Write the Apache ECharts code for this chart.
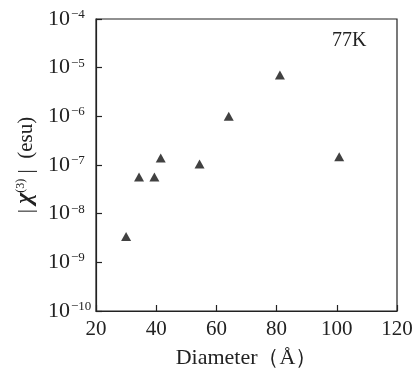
<!DOCTYPE html>
<html><head><meta charset="utf-8">
<script src="https://cdn.jsdelivr.net/npm/echarts@6/dist/echarts.min.js"></script>
<style>html,body{margin:0;padding:0;background:#fff}#c{width:414px;height:368px}</style>
</head><body><div id="c"></div>
<script>
const diameters = [30, 34.3, 39.4, 41.5, 54.4, 64.1, 81.1, 100.8];
const chi3 = [3.4e-9, 5.7e-8, 5.7e-8, 1.39e-7, 1.05e-7, 1.0e-6, 7.1e-6, 1.48e-7];
const xTicks = [20, 40, 60, 80, 100, 120];
const yExps = [-10, -9, -8, -7, -6, -5, -4];

const serif = 'Liberation Serif, DejaVu Serif, serif';
const chart = echarts.init(document.getElementById('c'), null, {renderer: 'canvas'});
chart.setOption({
  animation: false,
  backgroundColor: '#fff',
  grid: {left: 96, right: 17, top: 19, bottom: 57, containLabel: false, outerBoundsMode: 'none',
         show: true, borderColor: '#222', borderWidth: 1.2},
  xAxis: {
    type: 'value', min: xTicks[0], max: xTicks[xTicks.length - 1], interval: 20,
    axisLine: {lineStyle: {color: '#222', width: 1.2}},
    axisTick: {inside: true, length: 6, lineStyle: {color: '#222', width: 1.2}},
    splitLine: {show: false},
    axisLabel: {margin: 8, color: '#222', fontFamily: serif, fontSize: 21},
    name: 'Diameter（Å）', nameLocation: 'middle', nameGap: 36,
    nameTextStyle: {color: '#222', fontFamily: serif, fontSize: 22}
  },
  yAxis: {
    type: 'log', logBase: 10, min: Math.pow(10, yExps[0]), max: Math.pow(10, yExps[yExps.length - 1]),
    axisLine: {lineStyle: {color: '#222', width: 1.2}},
    axisTick: {inside: true, length: 6, lineStyle: {color: '#222', width: 1.2}},
    splitLine: {show: false},
    minorTick: {show: false},
    axisLabel: {
      margin: 48, align: 'left', color: '#222',
      formatter: v => '{b|10}{s|' + String(Math.round(Math.log10(v))).replace('-', '−') + '}',
      rich: {
        b: {fontFamily: serif, fontSize: 22, lineHeight: 22, color: '#222', verticalAlign: 'bottom'},
        s: {fontFamily: serif, fontSize: 13, lineHeight: 13, color: '#222', verticalAlign: 'bottom', padding: [0, 0, 9, 1]}
      }
    },
    name: '{n|| }{c|χ}{s|(3)}{n| |  (esu)}', nameLocation: 'middle', nameGap: 46,
    nameTextStyle: {
      rich: {
        n: {fontFamily: serif, fontSize: 21, lineHeight: 21, color: '#222', verticalAlign: 'bottom'},
        c: {fontFamily: serif, fontSize: 24, lineHeight: 24, fontStyle: 'italic', fontWeight: 'bold', color: '#222', verticalAlign: 'bottom'},
        s: {fontFamily: serif, fontSize: 12, lineHeight: 12, color: '#222', verticalAlign: 'bottom', padding: [0, 0, 10, 0]}
      }
    }
  },
  series: [{
    type: 'scatter',
    symbol: 'triangle', symbolSize: [10, 9],
    itemStyle: {color: '#111'},
    data: diameters.map((d, i) => [d, chi3[i]])
  }],
  graphic: [{
    type: 'text', left: 332, top: 31,
    style: {text: '77K', font: '20px ' + serif, fill: '#222'}
  }]
});
</script></body></html>
